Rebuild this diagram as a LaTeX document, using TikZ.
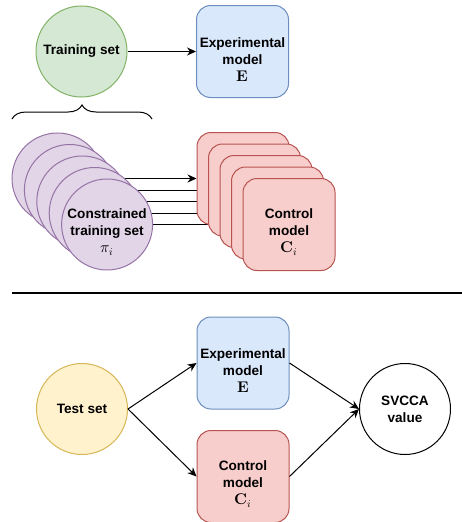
\documentclass[tikz,border=0pt]{standalone}
\usepackage{fontspec}
\newfontfamily\boxfont{Liberation Sans}
\newfontfamily\lmmath{Latin Modern Math}
\usetikzlibrary{arrows.meta,decorations.pathreplacing,backgrounds}

\definecolor{greenfill}{HTML}{D5E8D4}
\definecolor{greendraw}{HTML}{82B366}
\definecolor{bluefill}{HTML}{DAE8FC}
\definecolor{bluedraw}{HTML}{6C8EBF}
\definecolor{redfill}{HTML}{F8CECC}
\definecolor{reddraw}{HTML}{B85450}
\definecolor{purplefill}{HTML}{E1D5E7}
\definecolor{purpledraw}{HTML}{9673A6}
\definecolor{yellowfill}{HTML}{FFF2CC}
\definecolor{yellowdraw}{HTML}{D6B656}

\newcommand\symidx{\raisebox{-3pt}{\fontsize{10.5pt}{11pt}\selectfont 𝑖}}
\newcommand\symE{{\lmmath\mdseries\fontsize{15.5pt}{17pt}\selectfont 𝐄}}
\newcommand\symC{{\lmmath\mdseries\fontsize{15.5pt}{17pt}\selectfont 𝐂\symidx}}
\newcommand\sympi{{\lmmath\mdseries\fontsize{15.5pt}{17pt}\selectfont 𝜋\symidx}}

\tikzset{
  txt/.style={font={\boxfont\bfseries\fontsize{13.6pt}{17pt}\selectfont}, align=center},
  setcirc/.style={circle, draw, line width=1pt, minimum size=91pt, inner sep=0pt, txt},
  modelbox/.style={rectangle, rounded corners=14pt, draw, line width=1pt,
    minimum width=92pt, minimum height=92pt, inner sep=0pt, txt},
  expbox/.style={modelbox, fill=bluefill, draw=bluedraw},
  ctrlbox/.style={modelbox, fill=redfill, draw=reddraw},
  arr/.style={-{Stealth[length=9pt,width=8pt]}, line width=1pt},
}

\begin{document}
\begin{tikzpicture}[x=1pt,y=-1pt]
  \useasboundingbox (0,0) rectangle (462,522);
  % training
  \node[setcirc, fill=greenfill, draw=greendraw] (train) at (81.5,51.5) {Training set};
  \node[expbox] (expA) at (242.5,51.5) {};
  \node[txt] (expAtxt) at ([yshift=-8pt]expA) {Experimental\\model\\\symE};
  \draw[arr] (train) -- (expA);
  \draw[decorate, decoration={brace, amplitude=14pt}, line width=1pt] (12,119) -- (152,119);
  \foreach \i in {1,...,5} {
    \node[setcirc, fill=purplefill, draw=purpledraw] (c\i) at ({57.5+12.4*(\i-1)},{178.5+11.5*(\i-1)}) {};
    \node[ctrlbox] (m\i) at ({243+11.5*(\i-1)},{178.5+11.5*(\i-1)}) {};
  }
  \node[txt] (c5txt) at ([yshift=-8pt]c5) {Constrained\\training set\\\sympi};
  \node[txt] (m5txt) at ([yshift=-8pt]m5) {Control\\model\\\symC};
  \begin{scope}[on background layer]
    \foreach \i in {1,...,5}
      \draw[arr] (c\i.east) -- (m\i.west);
  \end{scope}
  \draw[line width=2pt] (12,293) -- (462,293);
  % testing
  \node[setcirc, fill=yellowfill, draw=yellowdraw] (test) at (82,409) {Test set};
  \node[expbox] (expB) at (243,363) {};
  \node[txt] (expBtxt) at ([yshift=-8pt]expB) {Experimental\\model\\\symE};
  \node[ctrlbox] (ctrlB) at (243,476.5) {};
  \node[txt] (ctrlBtxt) at ([yshift=-8pt]ctrlB) {Control\\model\\\symC};
  \node[setcirc, fill=white, draw=black] (svcca) at (405,409) {SVCCA\\value};
  \draw[arr] (test.east) -- (expB.west);
  \draw[arr] (test.east) -- (ctrlB.west);
  \draw[arr] (expB.east) -- (svcca.west);
  \draw[arr] (ctrlB.east) -- (svcca.west);
\end{tikzpicture}
\end{document}
